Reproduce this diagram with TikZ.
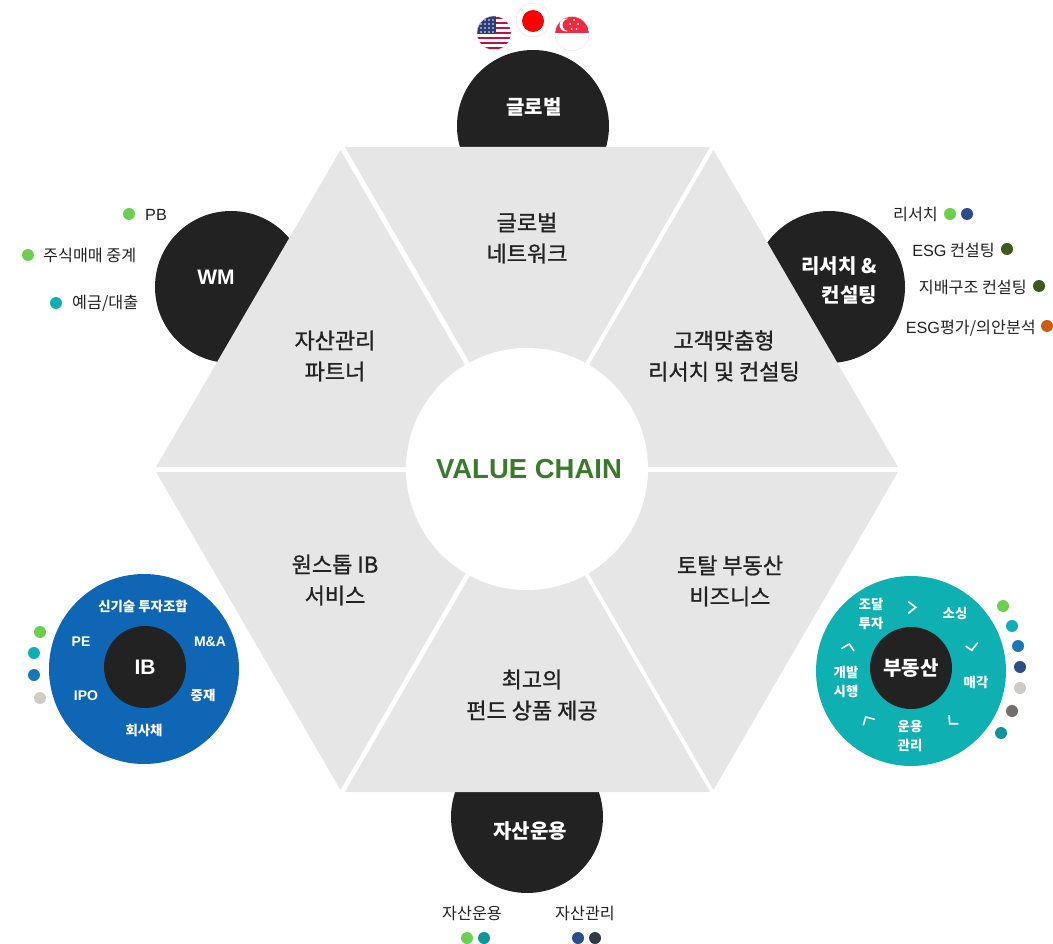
\documentclass[tikz,border=0pt]{standalone}
\usepackage{fontspec}
\setmainfont{Noto Sans CJK KR}
\newfontfamily\medfont[FakeBold=1]{Noto Sans CJK KR}
\newfontfamily\latinfont{Liberation Sans}
\usetikzlibrary{positioning}
\definecolor{hexgray}{HTML}{E6E6E6}
\definecolor{inkdark}{HTML}{222222}
\definecolor{chaingreen}{HTML}{3A7A2C}
\definecolor{ibblue}{HTML}{0F66B4}
\definecolor{reteal}{HTML}{0FB0B2}
\definecolor{dotgreen}{HTML}{6CCF4F}
\definecolor{dotteal}{HTML}{0FB0B2}
\definecolor{dotblue}{HTML}{1B75BB}
\definecolor{dotnavy}{HTML}{2C4C8C}
\definecolor{dotbeige}{HTML}{CFCAC4}
\definecolor{dotgray}{HTML}{736E6E}
\definecolor{dotdeep}{HTML}{0F9597}
\definecolor{dotolive}{HTML}{3C5A1E}
\definecolor{dotorange}{HTML}{C8600F}
\definecolor{dotslate}{HTML}{343A45}
\definecolor{flagred}{HTML}{EE2B3F}
\definecolor{usred}{HTML}{B9153E}
\definecolor{usblue}{HTML}{2B3A78}

\begin{document}
\begin{tikzpicture}[
		    x=1pt, y=-1pt,
		    every node/.style={inner sep=0pt, align=center},
		    tri/.style={fill=hexgray},
		    dark/.style={circle, fill=inkdark, minimum size=152pt},
		    inner/.style={circle, fill=inkdark, minimum size=82pt},
		    dot/.style={circle, minimum size=12pt},
		    trilabel/.style={text=inkdark, font=\medfont\fontsize{22}{31}\selectfont},
		    title/.style={text=white, font=\bfseries\fontsize{20}{29}\selectfont},
		    item/.style={text=inkdark, font=\fontsize{16.2}{20}\selectfont},
		    ibitem/.style={text=white, font=\bfseries\fontsize{13.4}{19}\selectfont},
		    chevron/.style={draw=white, line width=1.6pt}
		]
		    \useasboundingbox (0,0) rectangle (1053,944);

		    % circles behind the hexagon
		    \node[dark] (global) at (533,126) {};
		    \node[dark] (wm) at (231,287) {};
		    \node[dark] (research) at (829,287) {};
		    \node[dark] (asset) at (527,817) {};

		    % hexagon
		    \fill[tri] (345,147) -- (710,147) -- (527.5,463) -- cycle;
		    \fill[tri] (340.5,150) -- (156,467) -- (524,467) -- cycle;
		    \fill[tri] (713.5,150) -- (898,467) -- (530,467) -- cycle;
		    \fill[tri] (156,472) -- (524,472) -- (340.5,790) -- cycle;
		    \fill[tri] (898,472) -- (530,472) -- (713.5,790) -- cycle;
		    \fill[tri] (345,792) -- (710,792) -- (527.5,476) -- cycle;
		    \node[circle, fill=white, minimum size=242pt] (center) at (527,469) {};
		    \node[text=chaingreen, font=\latinfont\bfseries\fontsize{27.5}{32}\selectfont] (chain) at (529,469) {VALUE CHAIN};

		    \node[trilabel] (net) at (527,238) {글로벌\\네트워크};
		    \node[trilabel] (partner) at (335,356) {자산관리\\파트너};
		    \node[trilabel] (custom) at (724,356) {고객맞춤형\\리서치 및 컨설팅};
		    \node[trilabel] (ibserv) at (335,580) {원스톱 IB\\서비스};
		    \node[trilabel] (estate) at (730,581) {토탈 부동산\\비즈니스};
		    \node[trilabel] (fund) at (532,695) {최고의\\펀드 상품 제공};

		    \node[title] (globallabel) at (534,107) {글로벌};
		    \node[title, font=\latinfont\bfseries\fontsize{21}{29}\selectfont] (wmlabel) at (216,277) {WM};
		    \node[title, align=right, anchor=east] (researchlabel) at (877,280.5) {리서치 \&\\컨설팅};
		    \node[title] (assetlabel) at (530,831) {자산운용};

		    % list items
		    \node[item, anchor=west] (pb) at (145,214.5) {{\latinfont PB}};
		    \node[item, anchor=west] (stock) at (43,255.5) {주식매매 중계};
		    \node[item, anchor=west] (loan) at (72,303) {예금/대출};
		    \node[item, anchor=east] (res) at (938,214) {리서치};
		    \node[item, anchor=east] (esg) at (995,250) {{\latinfont ESG} 컨설팅};
		    \node[item, anchor=east] (gov) at (1027,287) {지배구조 컨설팅};
		    \node[item, anchor=east] (vote) at (1036,328) {{\latinfont ESG}평가/의안분석};
		    \node[item] (assetitem) at (472,913) {자산운용};
		    \node[item] (manageitem) at (585,913) {자산관리};

		    \foreach \name/\x/\y/\c in {
			d1/129/214/dotgreen, d2/28/255/dotgreen, d3/56/303/dotteal,
			d4/950/214/dotgreen, d5/967/214/dotnavy, d6/1007/249/dotolive,
			d7/1039/286/dotolive, d8/1047/326/dotorange,
			d9/467/938/dotgreen, d10/484/938/dotdeep, d11/578/938/dotnavy, d12/595/938/dotslate,
			d13/40/632/dotgreen, d14/34/653/dotteal, d15/34/675/dotblue, d16/40/698/dotbeige,
			d17/1003/606/dotgreen, d18/1012/626/dotteal, d19/1018/646/dotblue, d20/1020/667/dotnavy,
			d21/1020/688/dotbeige, d22/1012/711/dotgray, d23/1001/733/dotdeep} {
			\node[dot, fill=\c] (\name) at (\x,\y) {};
		    }

		    % IB wheel
		    \node[circle, fill=ibblue, minimum size=190pt] (ibwheel) at (144,669) {};
		    \node[inner] (ib) at (145,667) {};
		    \node[text=white, font=\latinfont\bfseries\fontsize{21}{24}\selectfont] (iblabel) at (ib) {IB};
		    \node[ibitem] (ib1) at (143,606.5) {신기술 투자조합};
		    \node[ibitem, font=\latinfont\bfseries\fontsize{14}{19}\selectfont] (ib2) at (210,642) {M\&A};
		    \node[ibitem] (ib3) at (203,695.5) {중재};
		    \node[ibitem] (ib4) at (144,730) {회사채};
		    \node[ibitem, font=\latinfont\bfseries\fontsize{14}{19}\selectfont] (ib5) at (86,696) {IPO};
		    \node[ibitem, font=\latinfont\bfseries\fontsize{14}{19}\selectfont] (ib6) at (81,642) {PE};

		    % real estate wheel
		    \node[circle, fill=reteal, minimum size=190pt] (rewheel) at (911,671) {};
		    \node[inner] (re) at (911,668) {};
		    \node[text=white, font=\bfseries\fontsize{20}{24}\selectfont] (relabel) at (re) {부동산};
		    \node[ibitem] (re1) at (871,614) {조달\\투자};
		    \node[ibitem] (re2) at (955,613.5) {소싱};
		    \node[ibitem] (re3) at (976,682.5) {매각};
		    \node[ibitem] (re4) at (910,736) {운용\\관리};
		    \node[ibitem] (re5) at (846,682) {개발\\시행};

		    \draw[chevron] (908.3,601.7) -- (915.7,607.3) -- (908.3,613.3);
		    \draw[chevron] (965.7,646) -- (971.7,650.3) -- (977.7,642.7);
		    \draw[chevron] (949,715) -- (949.7,723.7) -- (958.3,723.7);
		    \draw[chevron] (863.3,725.3) -- (865.7,717) -- (874.7,719.3);
		    \draw[chevron] (841.3,648.7) -- (849.3,644) -- (854,651);

		    % flags
		    \begin{scope}
			\clip (494,33) circle (17);
			\fill[white] (477,16) rectangle (511,50);
			\foreach \y in {17,22,27,32,37,42,47} {
			    \fill[usred] (477,\y) rectangle (511,\y+2.5);
			}
			\fill[usblue] (477,16) rectangle (496,34);
			\foreach \y in {20,24,28,32} {
			    \foreach \x in {481,485,489,493} {
				\fill[white] (\x,\y) circle (0.8);
			    }
			}
		    \end{scope}
		    \draw[gray!25] (494,33) circle (17);

		    \draw[gray!20, fill=white] (533,20) circle (17);
		    \fill[red] (533,21) circle (11);

		    \begin{scope}
			\clip (572,33.5) circle (17);
			\fill[white] (555,16) rectangle (589,51);
			\fill[flagred] (555,16) rectangle (589,33.5);
			\fill[white] (566,25) circle (6.5);
			\fill[flagred] (568.5,25) circle (6);
			\foreach \x/\y in {574/20, 570/24, 578/24, 571.5/29, 576.5/29} {
			    \fill[white] (\x,\y) circle (1);
			}
		    \end{scope}
		    \draw[gray!20] (572,33.5) circle (17);
		\end{tikzpicture}
\end{document}
